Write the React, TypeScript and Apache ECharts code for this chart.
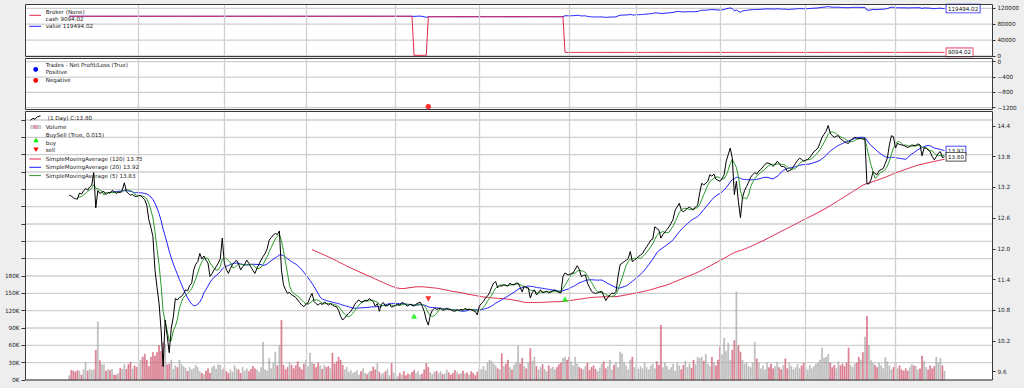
import React, { useEffect, useRef } from "react";
import * as echarts from "echarts";

// ---------- data ----------
const closes: number[] = [
  13.05, 13.03, 13.00, 12.98, 12.97, 13.09, 13.07, 13.13, 13.18, 13.15,
  13.21, 13.24, 13.49, 12.80, 13.14, 13.08, 13.11, 13.12, 13.06, 13.10,
  13.09, 13.14, 13.12, 13.08, 13.11, 13.10, 13.15, 13.29, 13.12, 13.08,
  13.05, 13.06, 13.03, 13.02, 13.04, 13.04, 13.00, 12.96, 12.85, 12.57,
  12.42, 12.24, 11.59, 11.25, 10.94, 10.42, 9.70, 10.61, 10.30, 9.97,
  10.45, 10.67, 11.03, 11.00, 11.05, 11.07, 11.12, 11.20, 11.18, 11.28,
  11.33, 11.59, 11.70, 11.75, 11.91, 11.80, 11.86, 11.78, 11.72, 11.46,
  11.52, 11.59, 11.65, 11.72, 11.80, 12.21, 11.72, 11.60, 11.52, 11.62,
  11.69, 11.74, 11.78, 11.70, 11.59, 11.65, 11.70, 11.78, 11.72, 11.65,
  11.58, 11.52, 11.62, 11.70, 11.78, 11.85, 11.91, 12.00, 12.17, 12.22,
  12.27, 12.30, 12.28, 12.35, 11.59, 11.30, 11.20, 11.13, 11.15, 11.10,
  11.08, 11.05, 11.00, 10.95, 10.90, 10.87, 10.92, 10.94, 11.05, 11.13,
  10.97, 10.93, 10.90, 10.94, 10.91, 10.96, 10.94, 10.90, 10.93, 10.90,
  10.88, 10.87, 10.80, 10.68, 10.61, 10.65, 10.70, 10.74, 10.78, 10.84,
  10.92, 10.97, 11.00, 10.96, 10.97, 11.00, 10.98, 11.03, 11.00, 10.97,
  10.88, 10.93, 10.78, 10.92, 10.95, 10.88, 10.90, 10.92, 10.86, 10.88,
  10.90, 10.92, 10.90, 10.95, 10.94, 10.90, 10.88, 10.92, 10.90, 10.88,
  10.92, 10.94, 10.96, 10.88, 10.78, 10.61, 10.51, 10.71, 10.80, 10.84,
  10.82, 10.83, 10.84, 10.80, 10.81, 10.84, 10.82, 10.81, 10.79, 10.78,
  10.81, 10.80, 10.82, 10.80, 10.84, 10.81, 10.82, 10.81, 10.79, 10.78,
  10.71, 10.88, 10.93, 10.97, 11.04, 11.08, 11.14, 11.25, 11.33, 11.36,
  11.24, 11.28, 11.27, 11.30, 11.29, 11.27, 11.33, 11.30, 11.30, 11.33,
  11.33, 11.25, 11.16, 11.27, 11.24, 11.24, 11.04, 11.15, 11.20, 11.10,
  11.15, 11.20, 11.14, 11.16, 11.17, 11.14, 11.16, 11.18, 11.20, 11.17,
  11.15, 11.14, 11.46, 11.53, 11.50, 11.49, 11.52, 11.53, 11.60, 11.67,
  11.60, 11.46, 11.48, 11.49, 11.33, 11.25, 11.17, 11.14, 11.13, 11.14,
  11.16, 11.17, 11.08, 10.99, 11.05, 11.10, 11.14, 11.12, 11.17, 11.46,
  11.69, 11.72, 11.75, 11.78, 11.81, 11.95, 11.75, 11.78, 11.81, 11.85,
  11.88, 11.91, 11.98, 12.04, 12.10, 12.17, 12.19, 12.43, 12.40, 12.37,
  12.21, 12.28, 12.33, 12.38, 12.43, 12.50, 12.58, 12.76, 12.82, 12.89,
  12.76, 12.72, 12.76, 12.79, 12.82, 12.78, 12.76, 12.82, 12.85, 13.09,
  13.28, 13.25, 13.28, 13.32, 13.45, 13.42, 13.46, 13.36, 13.34, 13.32,
  13.37, 13.45, 13.71, 13.84, 13.97, 13.77, 13.06, 13.32, 12.92, 12.61,
  13.00, 13.14, 13.22, 13.30, 13.40, 13.45, 13.49, 13.46, 13.52, 13.55,
  13.60, 13.65, 13.68, 13.67, 13.65, 13.61, 13.65, 13.71, 13.67, 13.61,
  13.61, 13.59, 13.51, 13.53, 13.55, 13.61, 13.67, 13.73, 13.77, 13.75,
  13.71, 13.73, 13.75, 13.79, 13.84, 13.90, 13.93, 13.97, 14.07, 14.18,
  14.24, 14.30, 14.41, 14.26, 14.21, 14.18, 14.20, 14.21, 14.15, 14.12,
  14.09, 14.07, 14.06, 14.12, 14.15, 14.18, 14.17, 14.15, 14.16, 14.14,
  14.15, 13.27, 13.27, 13.35, 13.51, 13.47, 13.45, 13.53, 13.55, 13.57,
  13.67, 13.77, 14.03, 14.21, 14.19, 13.97, 14.06, 14.04, 14.03, 14.02,
  14.00, 13.98, 14.00, 14.03, 14.02, 14.02, 14.05, 14.03, 13.82, 13.97,
  13.97, 13.93, 13.90, 13.80, 13.74, 13.80, 13.87, 13.90, 13.78, 13.80,
];

const volumesK: number[] = [
  8, 17, 16, 14, 17, 16, 9, 18, 31, 16,
  19, 17, 18, 52, 101, 34, 27, 27, 16, 19,
  17, 19, 9, 9, 12, 21, 19, 27, 19, 27,
  31, 19, 25, 22, 27, 35, 40, 45, 35, 24,
  40, 48, 42, 48, 60, 50, 65, 62, 27, 28,
  35, 19, 25, 22, 35, 27, 24, 21, 15, 22,
  18, 20, 26, 22, 15, 12, 10, 16, 20, 12,
  22, 25, 19, 27, 26, 18, 22, 15, 12, 18,
  14, 25, 20, 18, 12, 22, 16, 20, 15, 19,
  24, 20, 18, 14, 22, 66, 18, 16, 38, 20,
  30, 49, 25, 60, 104, 26, 18, 22, 30, 26,
  20, 25, 32, 22, 18, 28, 35, 24, 47, 30,
  28, 22, 30, 25, 19, 26, 22, 24, 20, 47,
  28, 32, 40, 35, 26, 18, 22, 14, 17, 12,
  14, 17, 9, 15, 20, 12, 10, 14, 16, 23,
  18, 29, 14, 10, 12, 15, 19, 8, 29, 13,
  10, 6, 12, 9, 15, 8, 11, 10, 14, 17,
  12, 15, 9, 11, 18, 29, 22, 13, 10, 14,
  16, 12, 15, 10, 11, 18, 13, 9, 12, 17,
  14, 10, 12, 16, 11, 13, 9, 15, 12, 8,
  14, 20, 18, 24, 17, 30, 35, 33, 28, 25,
  20, 18, 46, 24, 28, 35, 22, 18, 26, 30,
  60, 28, 38, 24, 20, 30, 55, 33, 40, 24,
  18, 22, 27, 19, 15, 25, 20, 23, 18, 22,
  27, 30, 38, 40, 35, 40, 32, 25, 40, 28,
  22, 20, 18, 24, 30, 17, 22, 25, 19, 15,
  21, 28, 32, 20, 24, 35, 18, 26, 30, 22,
  49, 46, 30, 25, 18, 35, 40, 22, 27, 19,
  24, 20, 30, 22, 18, 25, 28, 20, 32, 26,
  95, 22, 30, 24, 18, 22, 28, 16, 30, 25,
  18, 26, 33, 22, 28, 21, 35, 27, 40, 38,
  40, 33, 45, 28, 24, 40, 30, 25, 35, 58,
  44, 73, 50, 64, 35, 52, 69, 153, 60, 49,
  35, 28, 30, 24, 22, 30, 66, 37, 30, 20,
  25, 18, 30, 22, 28, 20, 24, 31, 22, 18,
  26, 37, 20, 30, 24, 18, 22, 28, 20, 25,
  30, 22, 18, 26, 20, 24, 28, 30, 35, 56,
  38, 40, 45, 30, 22, 26, 20, 32, 25, 28,
  24, 30, 56, 26, 22, 28, 30, 40, 35, 48,
  75, 111, 60, 34, 30, 26, 22, 30, 25, 20,
  39, 32, 25, 18, 22, 30, 20, 25, 18, 16,
  20, 16, 22, 27, 25, 24, 18, 20, 42, 33,
  22, 18, 25, 20, 24, 40, 30, 38, 25, 16,
];

const monthLineBars = [34, 76, 116, 160, 201, 245, 278, 319, 361, 405];
const brokerTicks = [0, 40000, 80000, 120000];
const tradeTicks = [-1200, -800, -400, 0];
const volumeTicks = [0, 30000, 60000, 90000, 120000, 150000, 180000, 210000, 240000, 270000, 300000, 330000, 360000, 390000, 420000, 450000];
const buyMarks: [number, number][] = [[169, 10.69], [243, 11.02]];
const sellMarks: [number, number][] = [[176, 11.02]];
const orderBars = [169, 176, 243];
const orderSizes = [9000, -9000, 8000];
const orderPrices = [10.92, 10.79, 11.2169975];
const tradePnL: [number, number][] = [[176, -1170]];
const startCash = 100000;
const smaPeriods = [120, 20, 5];
const dataName = "(1 Day)";

// ---------- derived series ----------
function smaSeries(n: number): [number, number][] {
  const out: [number, number][] = [];
  let s = 0;
  for (let i = 0; i < closes.length; i++) {
    s += closes[i];
    if (i >= n) s -= closes[i - n];
    if (i >= n - 1) out.push([i, s / n]);
  }
  return out;
}

const cashLine: [number, number][] = [];
const valueLine: [number, number][] = [];
{
  let c = startCash;
  let pos = 0;
  closes.forEach((cl, i) => {
    orderBars.forEach((b, k) => {
      if (b === i) {
        c -= orderSizes[k] * orderPrices[k];
        pos += orderSizes[k];
      }
    });
    cashLine.push([i, c]);
    valueLine.push([i, c + pos * cl]);
  });
}

const FONT = '"DejaVu Sans", "Liberation Sans", sans-serif';
const LFS = 5.6;
const TFS = 5.7;
const XMIN = -21.7;
const XMAX = 452.3;
const LEFT = 25;
const WIDTH = 967;

const COL_RED = "#e0284f";
const COL_BLUE = "#1f1fff";
const COL_GREEN = "#2a9a2a";

export default function App() {
  const ref = useRef<HTMLDivElement>(null);

  useEffect(() => {
    document.body.style.margin = "0";
    document.documentElement.style.overflow = "hidden";
    if (!ref.current) return;
    const chart = echarts.init(ref.current, undefined, { renderer: "svg" });
    const last = closes.length - 1;
    const smas = smaPeriods.map((p) => smaSeries(p));
    const smaColors = [COL_RED, COL_BLUE, COL_GREEN];
    const smaLast = smas.map((s) => s[s.length - 1][1].toFixed(2));
    const cashTxt = cashLine[last][1].toFixed(2);
    const valueTxt = valueLine[last][1].toFixed(2);
    const closeTxt = closes[last].toFixed(2);

    // grid indices: 0,1,2 frames (white panels); 3 broker; 4 trades; 5 volume; 6 price
    const xAxisBase = (gi: number) => ({
      type: "value",
      gridIndex: gi,
      min: XMIN,
      max: XMAX,
      show: false,
      axisLine: { show: false, onZero: false },
    });

    const tickStyle = {
      axisLine: { show: false, onZero: false },
      axisTick: { show: true, inside: false, length: 3.5, lineStyle: { color: "#333", width: 1 } },
      splitLine: { show: false },
    };
    const labelStyle = { fontSize: TFS, fontFamily: FONT, color: "#222", margin: 5.5 };

    const vGrid = (gi: number) => ({
      type: "line",
      xAxisIndex: gi,
      yAxisIndex: gi,
      data: [],
      silent: true,
      z: 1,
      markLine: {
        silent: true,
        symbol: ["none", "none"],
        label: { show: false },
        emphasis: { disabled: true },
        lineStyle: { color: "#d0d0d0", width: 1.3, type: "solid" },
        data: monthLineBars.map((b) => ({ xAxis: b })),
      },
    });

    const endLbl = (txt: string, border: string) => ({
      show: true,
      formatter: () => txt,
      fontSize: LFS,
      fontFamily: FONT,
      color: "#111",
      backgroundColor: "#fff",
      borderColor: border,
      borderWidth: 0.8,
      padding: [1.3, 1.5, 0.7, 1.5],
      distance: 2,
    });

    const volData = volumesK.map((v, i) => {
      const up = i === 0 || closes[i] >= closes[i - 1];
      return {
        value: [i, v * 1000],
        itemStyle: up
          ? { color: "rgba(170,170,170,0.6)", borderColor: "#a6a6a6", borderWidth: 0.5 }
          : { color: "rgba(214,110,130,0.65)", borderColor: "#cc4f68", borderWidth: 0.5 },
      };
    });

    const t = (x: number, y: number, text: string) => ({
      type: "text",
      x,
      y,
      silent: true,
      z: 60,
      style: { text, fill: "#1a1a1a", fontSize: LFS, fontFamily: FONT, align: "left", verticalAlign: "middle" },
    });
    const seg = (y: number, color: string) => ({
      type: "line",
      silent: true,
      z: 60,
      shape: { x1: 29.3, y1: y, x2: 41, y2: y },
      style: { stroke: color, lineWidth: 1 },
    });
    const frame = (y: number, h: number) => ({
      type: "rect",
      silent: true,
      z: 100,
      shape: { x: 25.5, y, width: 967, height: h },
      style: { fill: "none", stroke: "#3a3a3a", lineWidth: 1 },
    });

    const graphics: any[] = [
      frame(4.5, 52),
      frame(58.5, 51),
      frame(111.5, 268.5),
      // broker legend
      seg(15.3, COL_RED),
      t(45.7, 11.7, "Broker (None)"),
      t(45.7, 18.9, `cash ${cashTxt}`),
      seg(26.3, COL_BLUE),
      t(45.7, 26.3, `value ${valueTxt}`),
      // trades legend
      t(45.7, 65, "Trades - Net Profit/Loss (True)"),
      { type: "circle", silent: true, z: 60, shape: { cx: 35.7, cy: 69.4, r: 2.4 }, style: { fill: "#0000ff" } },
      t(45.7, 72.2, "Positive"),
      { type: "circle", silent: true, z: 60, shape: { cx: 35.7, cy: 80.3, r: 2.4 }, style: { fill: "#ff0000" } },
      t(45.7, 80.2, "Negative"),
      // main legend
      {
        type: "polyline",
        silent: true,
        z: 60,
        shape: { points: [[30.5, 120.3], [33, 118.3], [35, 119.3], [37.5, 116.6], [40.5, 115.8]] },
        style: { stroke: "#000", lineWidth: 1, fill: "none" },
      },
      t(47.7, 118.3, `${dataName} C:${closeTxt}`),
      { type: "rect", silent: true, z: 60, shape: { x: 30.5, y: 125.6, width: 3, height: 2.8 }, style: { fill: "#d9d9d9", stroke: "#a6a6a6", lineWidth: 0.5 } },
      { type: "rect", silent: true, z: 60, shape: { x: 34, y: 125.6, width: 3.5, height: 2.8 }, style: { fill: "#e8a6b3", stroke: "#cc4f68", lineWidth: 0.5 } },
      { type: "rect", silent: true, z: 60, shape: { x: 37.5, y: 125.6, width: 3.5, height: 2.8 }, style: { fill: "#d9d9d9", stroke: "#a6a6a6", lineWidth: 0.5 } },
      t(45.7, 127.3, "Volume"),
      t(45.7, 135.3, "BuySell (True, 0.015)"),
      { type: "polygon", silent: true, z: 60, shape: { points: [[36, 137.8], [38.6, 142.2], [33.4, 142.2]] }, style: { fill: "#00ee00" } },
      t(45.7, 142.5, "buy"),
      { type: "polygon", silent: true, z: 60, shape: { points: [[33.4, 147.6], [38.6, 147.6], [36, 152]] }, style: { fill: "#ff0000" } },
      t(45.7, 150.4, "sell"),
    ];
    const smaLegY = [159, 167.3, 175.6];
    smaPeriods.forEach((p, k) => {
      graphics.push(seg(smaLegY[k], smaColors[k]));
      graphics.push(t(45.7, smaLegY[k], `SimpleMovingAverage (${p}) ${smaLast[k]}`));
    });

    const option: any = {
      animation: false,
      backgroundColor: "#eeeeee",
      grid: [
        { left: LEFT, width: WIDTH, top: 4.5, height: 52, show: true, backgroundColor: "#fff", borderWidth: 0 },
        { left: LEFT, width: WIDTH, top: 58.5, height: 51, show: true, backgroundColor: "#fff", borderWidth: 0 },
        { left: LEFT, width: WIDTH, top: 111.5, height: 268.5, show: true, backgroundColor: "#fff", borderWidth: 0 },
        { left: LEFT, width: WIDTH, top: 8.3, height: 47.7 },
        { left: LEFT, width: WIDTH, top: 61.7, height: 46 },
        { left: LEFT, width: WIDTH, top: 111.5, height: 268.5 },
        { left: LEFT, width: WIDTH, top: 126, height: 245.7 },
      ],
      xAxis: [0, 1, 2, 3, 4, 5, 6].map((g) => xAxisBase(g)),
      yAxis: [
        { type: "value", gridIndex: 0, min: 0, max: 1, show: false, axisLine: { show: false, onZero: false } },
        { type: "value", gridIndex: 1, min: 0, max: 1, show: false, axisLine: { show: false, onZero: false } },
        { type: "value", gridIndex: 2, min: 0, max: 1, show: false, axisLine: { show: false, onZero: false } },
        {
          type: "value",
          gridIndex: 3,
          position: "right",
          min: 0,
          max: 120000,
          interval: 40000,
          ...tickStyle,
          axisLabel: { ...labelStyle, formatter: (v: number) => String(v) },
        },
        {
          type: "value",
          gridIndex: 4,
          position: "right",
          min: -1200,
          max: 0,
          interval: 400,
          ...tickStyle,
          axisLabel: { ...labelStyle, formatter: (v: number) => (v < 0 ? "\u2212" + Math.abs(v) : String(v)) },
        },
        {
          type: "value",
          gridIndex: 5,
          position: "left",
          min: 0,
          max: 464700,
          interval: 30000,
          ...tickStyle,
          axisLabel: {
            ...labelStyle,
            showMaxLabel: false,
            formatter: (v: number) => (v <= 180000 ? `${Math.round(v / 1000)}K` : ""),
          },
        },
        {
          type: "value",
          gridIndex: 6,
          position: "right",
          min: 9.6,
          max: 14.4,
          interval: 0.6,
          ...tickStyle,
          axisLabel: { ...labelStyle, formatter: (v: number) => v.toFixed(1) },
        },
      ],
      series: [
        vGrid(0),
        vGrid(1),
        vGrid(2),
        {
          type: "line",
          name: "value",
          xAxisIndex: 3,
          yAxisIndex: 3,
          data: valueLine,
          symbol: "none",
          clip: false,
          z: 3,
          lineStyle: { color: COL_BLUE, width: 1 },
          endLabel: endLbl(valueTxt, COL_BLUE),
        },
        {
          type: "line",
          name: "cash",
          xAxisIndex: 3,
          yAxisIndex: 3,
          data: cashLine,
          symbol: "none",
          clip: false,
          z: 4,
          lineStyle: { color: COL_RED, width: 1 },
          endLabel: endLbl(cashTxt, COL_RED),
        },
        {
          type: "scatter",
          name: "Negative",
          xAxisIndex: 4,
          yAxisIndex: 4,
          data: tradePnL,
          symbol: "circle",
          symbolSize: 5.5,
          clip: false,
          z: 5,
          itemStyle: { color: "#ff0000" },
        },
        {
          type: "bar",
          name: "Volume",
          xAxisIndex: 5,
          yAxisIndex: 5,
          data: volData,
          barWidth: 1.5,
          z: 2,
        },
        ...smas.map((s, k) => ({
          type: "line",
          name: `SMA${smaPeriods[k]}`,
          xAxisIndex: 6,
          yAxisIndex: 6,
          data: s,
          symbol: "none",
          clip: false,
          z: 4 + k * 0.1,
          lineStyle: { color: smaColors[k], width: 1 },
          // only the SMA(20) box is visible in the reference; the others sit hidden behind the close box
          endLabel: smaPeriods[k] === 20 ? endLbl(smaLast[k], smaColors[k]) : { show: false },
        })),
        {
          type: "line",
          name: "close",
          xAxisIndex: 6,
          yAxisIndex: 6,
          data: closes.map((c, i) => [i, c]),
          symbol: "none",
          clip: false,
          z: 5,
          lineStyle: { color: "#000", width: 1 },
          endLabel: endLbl(closeTxt, "#222"),
        },
        {
          type: "scatter",
          name: "buy",
          xAxisIndex: 6,
          yAxisIndex: 6,
          data: buyMarks,
          symbol: "triangle",
          symbolSize: [6, 5.5],
          clip: false,
          z: 6,
          itemStyle: { color: "#00ee00" },
        },
        {
          type: "scatter",
          name: "sell",
          xAxisIndex: 6,
          yAxisIndex: 6,
          data: sellMarks,
          symbol: "triangle",
          symbolRotate: 180,
          symbolSize: [6, 5.5],
          clip: false,
          z: 6,
          itemStyle: { color: "#ff0000" },
        },
      ],
    };

    chart.setOption(option);

    // horizontal grid lines placed through the library's own y scales
    const hLines: any[] = [];
    const addH = (axisIdx: number, vals: number[]) => {
      vals.forEach((v) => {
        const py = chart.convertToPixel({ yAxisIndex: axisIdx } as any, v) as unknown as number;
        if (typeof py !== "number" || !isFinite(py)) return;
        hLines.push({
          type: "line",
          silent: true,
          z: 1,
          shape: { x1: LEFT, y1: py, x2: LEFT + WIDTH, y2: py },
          style: { stroke: "#cfcfcf", lineWidth: 1.3 },
        });
      });
    };
    addH(3, brokerTicks);
    addH(4, tradeTicks);
    addH(5, volumeTicks);

    chart.setOption({ graphic: [...hLines, ...graphics] });
    return () => chart.dispose();
  }, []);

  return <div ref={ref} style={{ width: 1024, height: 388 }} />;
}
